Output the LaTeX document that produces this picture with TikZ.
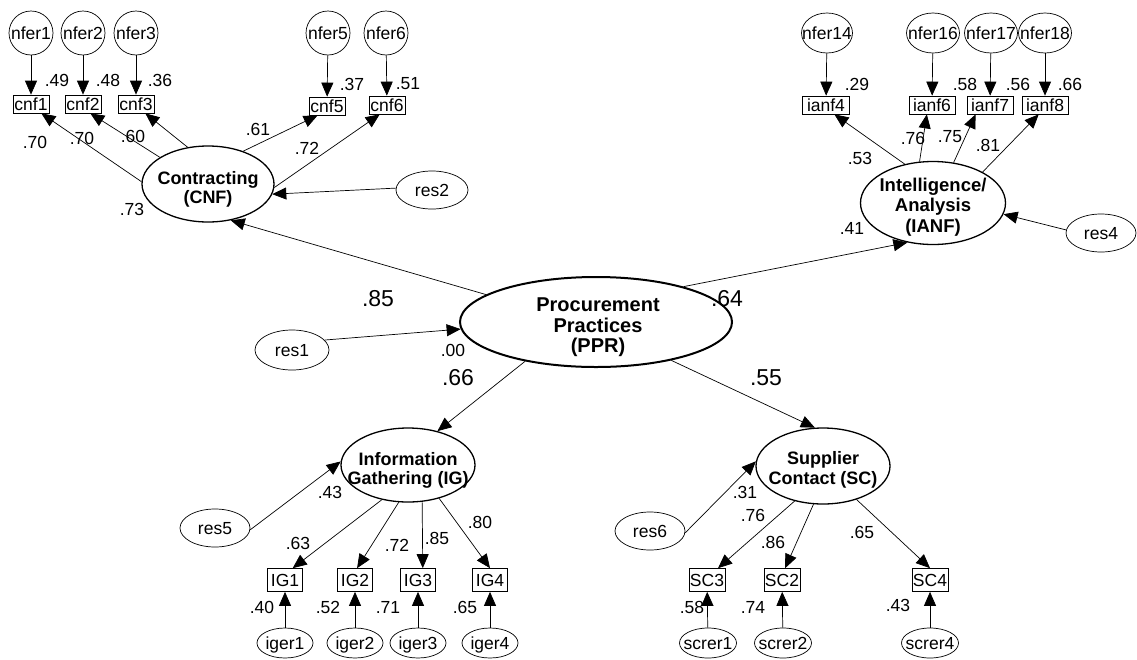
\documentclass[tikz,border=0pt]{standalone}
\usepackage{fontspec}
\setmainfont{Liberation Sans}
\usetikzlibrary{arrows.meta,shapes.geometric}
\newcommand{\ctext}[1]{\makebox[0pt]{\raisebox{-0.36em}[0pt][0pt]{#1}}}
\begin{document}
\begin{tikzpicture}[x=1pt,y=-1pt,
  every node/.style={font=\fontsize{17.5}{19}\selectfont},
  ind/.style={draw, line width=0.7pt, rectangle, inner sep=0pt, minimum height=18pt},
  err/.style={draw, line width=0.7pt, ellipse, inner sep=0pt},
  lat/.style={draw, line width=1.3pt, ellipse, inner sep=0pt},
  lattxt/.style={align=center, inner sep=0pt, font=\bfseries\fontsize{18}{19.5}\selectfont},
  conn/.style={line width=0.7pt, -{Triangle[length=14pt,width=12pt]}},
  coef/.style={inner sep=0pt},
  big/.style={inner sep=0pt, font=\fontsize{23}{25}\selectfont},
]
\useasboundingbox (0,0) rectangle (1137,659);
\fill[white] (0,0) rectangle (1137,659);

% ---------- Contracting ----------
\foreach \n/\x in {nfer1/31,nfer2/83,nfer3/136,nfer5/328,nfer6/386}
  \node[err, minimum width=44pt, minimum height=44pt] (\n) at (\x,33) {\ctext{\n}};
\node[ind, minimum width=36pt] (cnf1) at (31,104) {cnf1};
\node[ind, minimum width=36pt] (cnf2) at (83,104) {cnf2};
\node[ind, minimum width=36pt] (cnf3) at (136,104) {cnf3};
\node[ind, minimum width=36pt] (cnf5) at (327,106) {cnf5};
\node[ind, minimum width=36pt] (cnf6) at (387,105) {cnf6};
\draw[conn] (nfer1) -- (cnf1);
\draw[conn] (nfer2) -- (cnf2);
\draw[conn] (nfer3) -- (cnf3);
\draw[conn] (nfer5) -- (cnf5);
\draw[conn] (nfer6) -- (cnf6);
\node[coef] (l49) at (57,80) {.49};
\node[coef] (l48) at (108,80) {.48};
\node[coef] (l36) at (160,80) {.36};
\node[coef] (l37) at (352,84) {.37};
\node[coef] (l51) at (408,84) {.51};

\node[lat, minimum width=132pt, minimum height=76pt] (cnf) at (208,184) {};
\node[lattxt] (cnft) at (208,189.5) {Contracting\\(CNF)};
\node[err, minimum width=72pt, minimum height=38pt] (res2) at (432,190) {\ctext{res2}};
\draw[conn] (cnf.178) -- (cnf1.-42);
\draw[conn] (cnf.151) -- (cnf2.-52);
\draw[conn] (cnf.119) -- (cnf3.-45);
\draw[conn] (cnf.43) -- (cnf5.-135);
\draw[conn] (cnf.-3) -- (cnf6.-128);
\draw[conn] (res2.177) -- (cnf.-9.5);
\node[coef] (l70a) at (35,142) {.70};
\node[coef] (l70b) at (82,138) {.70};
\node[coef] (l60) at (133,136) {.60};
\node[coef] (l61) at (258,129) {.61};
\node[coef] (l72) at (307,148) {.72};
\node[coef] (l73) at (132,209) {.73};

% ---------- Intelligence / Analysis ----------
\node[err, minimum width=51pt, minimum height=40pt] (nfer14) at (827,33) {\ctext{nfer14}};
\node[err, minimum width=53pt, minimum height=40pt] (nfer16) at (933,33) {\ctext{nfer16}};
\node[err, minimum width=53pt, minimum height=40pt] (nfer17) at (991,33) {\ctext{nfer17}};
\node[err, minimum width=53pt, minimum height=40pt] (nfer18) at (1045,33) {\ctext{nfer18}};
\node[ind, minimum width=47pt] (ianf4) at (826,105) {ianf4};
\node[ind, minimum width=46pt] (ianf6) at (932,105) {ianf6};
\node[ind, minimum width=46pt] (ianf7) at (990,105) {ianf7};
\node[ind, minimum width=46pt] (ianf8) at (1045,105) {ianf8};
\draw[conn] (nfer14) -- (ianf4);
\draw[conn] (nfer16) -- (ianf6);
\draw[conn] (nfer17) -- (ianf7);
\draw[conn] (nfer18) -- (ianf8);
\node[coef] (l29) at (857,84) {.29};
\node[coef] (l58) at (965,84) {.58};
\node[coef] (l56) at (1018,84) {.56};
\node[coef] (l66) at (1070,84) {.66};

\node[lat, minimum width=145pt, minimum height=83pt] (ianf) at (933,203) {};
\node[lattxt, font=\bfseries\fontsize{18.5}{20.5}\selectfont] (ianft) at (933,207)
  {Intelligence/\\Analysis\\(IANF)};
\node[err, minimum width=70pt, minimum height=38pt] (res4) at (1101,233) {\ctext{res4}};
\draw[conn] (ianf.126) -- (ianf4.-48);
\draw[conn] (ianf.108) -- (ianf6.-119);
\draw[conn] (ianf.63) -- (ianf7.-147);
\draw[conn] (ianf.32) -- (ianf8.-124);
\draw[conn] (res4.175) -- (ianf.-9);
\node[coef] (l53) at (860,158) {.53};
\node[coef] (l76a) at (913,138) {.76};
\node[coef] (l75) at (950,137) {.75};
\node[coef] (l81) at (988,145) {.81};
\node[coef] (l41) at (852,228) {.41};

% ---------- Procurement Practices ----------
\node[draw, line width=2pt, ellipse, inner sep=0pt, minimum width=272pt, minimum height=90pt] (ppr) at (596,322) {};
\node[lattxt, font=\bfseries\fontsize{20}{20.5}\selectfont] (pprt) at (598,327.5)
  {Procurement\\Practices\\(PPR)};
\node[err, minimum width=74pt, minimum height=40pt] (res1) at (292,350) {\ctext{res1}};
\draw[conn] (res1.17) -- (ppr.-177.5);
\draw[conn] (ppr.166.7) -- (cnf.-58.6);
\draw[conn] (ppr.22.3) -- (ianf.-123);
\node[coef] (l00) at (453,350) {.00};
\node[big] (l85) at (378,299) {.85};
\node[big] (l64) at (727,299) {.64};

% ---------- Information Gathering ----------
\node[lat, minimum width=134pt, minimum height=74pt] (ig) at (408,465) {};
\node[lattxt] (igt) at (408,470.5) {Information\\Gathering (IG)};
\node[err, minimum width=70pt, minimum height=38pt] (res5) at (215,528) {\ctext{res5}};
\draw[conn] (ppr.-151.6) -- (ig.49.5);
\draw[conn] (res5.-3) -- (ig.177);
\node[big] (l66b) at (458,378) {.66};
\node[coef] (l43a) at (330,492) {.43};
\foreach \i/\x in {1/285,2/355,3/418,4/490}{
  \node[ind, minimum width=35pt, minimum height=23pt] (ig\i) at (\x,580) {IG\i};
  \node[err, minimum width=56pt, minimum height=30pt] (iger\i) at (\x,643) {\ctext{iger\i}};
  \draw[conn] (iger\i) -- (ig\i);
}
\draw[conn] (ig.-127) -- (ig1.57.5);
\draw[conn] (ig.-104) -- (ig2.80);
\draw[conn] (ig.-69.4) -- (ig3.68);
\draw[conn] (ig.-47.4) -- (ig4.90);
\node[coef] (l63) at (298,543) {.63};
\node[coef] (l72b) at (397,545) {.72};
\node[coef] (l85b) at (437,538) {.85};
\node[coef] (l80) at (480,522) {.80};
\node[coef] (l40) at (262,607) {.40};
\node[coef] (l52) at (328,607) {.52};
\node[coef] (l71) at (388,607) {.71};
\node[coef] (l65a) at (465,607) {.65};

% ---------- Supplier Contact ----------
\node[lat, minimum width=134pt, minimum height=76pt] (sc) at (823,466) {};
\node[lattxt] (sct) at (823,470) {Supplier\\Contact (SC)};
\node[err, minimum width=70pt, minimum height=38pt] (res6) at (650,531) {\ctext{res6}};
\draw[conn] (ppr.-27.8) -- (sc.102);
\draw[conn] (res6.-3) -- (sc.176.5);
\node[big] (l55) at (766,378) {.55};
\node[coef] (l31) at (745,492) {.31};
\node[ind, minimum width=36pt, minimum height=23pt] (sc3) at (707,580) {SC3};
\node[ind, minimum width=36pt, minimum height=23pt] (sc2) at (782,580) {SC2};
\node[ind, minimum width=36pt, minimum height=23pt] (sc4) at (930,580) {SC4};
\node[err, minimum width=57pt, minimum height=30pt] (screr1) at (708,643) {\ctext{screr1}};
\node[err, minimum width=57pt, minimum height=30pt] (screr2) at (783,643) {\ctext{screr2}};
\node[err, minimum width=57pt, minimum height=30pt] (screr4) at (930,643) {\ctext{screr4}};
\draw[conn] (screr1) -- (sc3);
\draw[conn] (screr2) -- (sc2);
\draw[conn] (screr4) -- (sc4);
\draw[conn] (sc.-129) -- (sc3.47.5);
\draw[conn] (sc.-104) -- (sc2.75);
\draw[conn] (sc.-45) -- (sc4.90);
\node[coef] (l76b) at (753,515) {.76};
\node[coef] (l86) at (773,542) {.86};
\node[coef] (l65b) at (862,532) {.65};
\node[coef] (l58b) at (692,607) {.58};
\node[coef] (l74) at (753,607) {.74};
\node[coef] (l43b) at (898,605) {.43};
\end{tikzpicture}
\end{document}
